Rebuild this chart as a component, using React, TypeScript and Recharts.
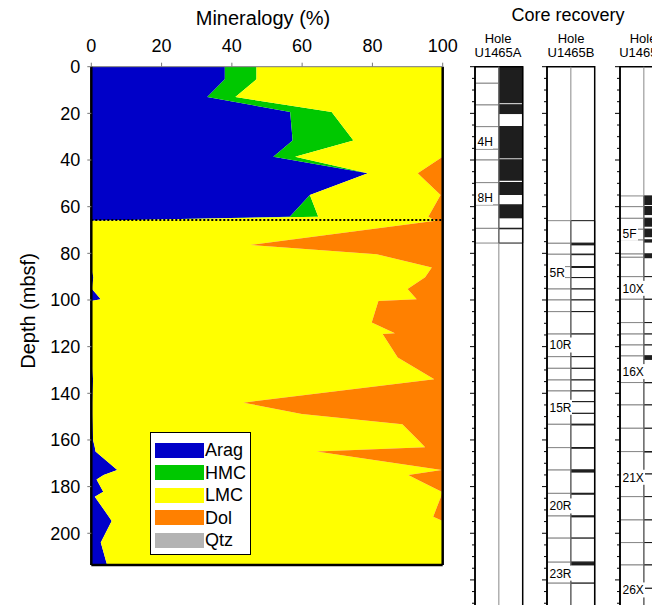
import React from 'react';
import {
  AreaChart,
  Area,
  ComposedChart,
  Scatter,
  XAxis,
  YAxis,
  Legend,
  ReferenceLine,
  ReferenceArea,
} from 'recharts';

// mineralogy (percent, by depth in mbsf)
const DEPTH = [0, 5.4, 13, 19.4, 31.6, 38.6, 45.7, 55, 64.3, 66, 76.4, 80.4, 86.1, 90.3, 95.3, 99.7, 100.4, 109.6, 114.3, 114.6, 124.7, 134, 144, 148.9, 153.3, 160, 163.1, 165, 172.9, 175, 176.9, 182.2, 184.3, 192.9, 194.7, 204, 213.6];
const ARAG = [38, 38, 33, 56.6, 57.3, 51.8, 78.7, 62.2, 56.5, 0, 0, 0, 0, 0.6, 0.2, 2.7, 0, 0, 0, 0, 0, 0.5, 0.3, 0.3, 0.4, 0.5, 1, 1.2, 7.4, 3.5, 1.5, 3.4, 1, 5, 5.8, 2.7, 4.5];
const HMC = [9, 9, 8, 11.8, 17.3, 6.2, 0, 0, 8.1, 0, 0, 0, 0, 0, 0, 0, 0, 0, 0, 0, 0, 0, 0, 0, 0, 0, 0, 0, 0, 0, 0, 0, 0, 0, 0, 0, 0];
const LMC = [53, 53, 59, 31.6, 25.4, 42, 14.2, 37.2, 31.3, 98, 45.2, 81.2, 96.9, 94.4, 89.8, 89.9, 81.7, 79.8, 86.4, 82.9, 87.2, 97.1, 43, 59.6, 88.1, 92.5, 94, 62.9, 92.3, 86.7, 91.2, 96.3, 98.5, 92.3, 94.2, 97.3, 95.5];
const DOL = [0, 0, 0, 0, 0, 0, 7.1, 0.6, 4.1, 2, 54.8, 18.8, 3.1, 5, 10, 7.4, 18.3, 20.2, 13.6, 17.1, 12.8, 2.4, 56.7, 40.1, 11.5, 7, 5, 35.9, 0.3, 9.8, 7.3, 0.3, 0.5, 2.7, 0, 0, 0];
const QTZ = [0, 0, 0, 0, 0, 0, 0, 0, 0, 0, 0, 0, 0, 0, 0, 0, 0, 0, 0, 0, 0, 0, 0, 0, 0, 0, 0, 0, 0, 0, 0, 0, 0, 0, 0, 0, 0];

const PCT_TICKS = [0, 20, 40, 60, 80, 100];
const DEPTH_TICKS = [0, 20, 40, 60, 80, 100, 120, 140, 160, 180, 200];
const UNIT_BOUNDARY = 65.7;
const MAX_DEPTH = 213.6;

const SERIES = [
  { key: 'Arag', color: '#0000c8' },
  { key: 'HMC', color: '#00c800' },
  { key: 'LMC', color: '#ffff00' },
  { key: 'Dol', color: '#ff8000' },
  { key: 'Qtz', color: '#b3b3b3' },
];

// core recovery: cored intervals, recovered intervals, core labels (mbsf)
const CORE_BOTTOM = 233.2;
const CORE_TICKS = [0, 5, 10, 15, 20, 25, 30, 35, 40, 45, 50, 55, 60, 65, 70, 75, 80, 85, 90, 95, 100, 105, 110, 115, 120, 125, 130, 135, 140, 145, 150, 155, 160, 165, 170, 175, 180, 185, 190, 195, 200, 205, 210, 215, 220, 225, 230];

const A_CORES = [[0, 7.1], [7.1, 16.4], [16.4, 25.7], [25.7, 35.4], [35.4, 40], [40, 49.7], [49.7, 59.3], [59.3, 69.3], [69.3, 75.6]];
const A_REC = [[0, 15.7], [16.4, 20.3], [25.7, 39.3], [40, 48.9], [49.7, 55], [59.3, 65], [69.3, 69.7]];
const A_LABELS = [{ depth: 32, text: '4H' }, { depth: 56, text: '8H' }];

const B_CORES = [[66, 75.7], [75.7, 80.4], [80.4, 85.7], [85.7, 90.4], [90.4, 95.3], [95.3, 100], [100, 105], [105, 114.6], [114.6, 124.3], [124.3, 129.3], [129.3, 134.3], [134.3, 139], [139, 143.6], [143.6, 148.6], [148.6, 153.3], [153.3, 163.3], [163.3, 172.9], [172.9, 182.9], [182.9, 192.6], [192.6, 202.1], [202.1, 212.4], [212.4, 221.4], [221.4, 233.2]];
const B_REC = [[75.7, 76.6], [80.4, 80.8], [85.7, 86.3], [153.3, 153.8], [163.3, 163.8], [172.9, 174], [182.9, 183.5], [192.6, 193.2], [212.4, 213.8]];
const B_LABELS = [{ depth: 88.3, text: '5R' }, { depth: 119.3, text: '10R' }, { depth: 146, text: '15R' }, { depth: 188.3, text: '20R' }, { depth: 217.1, text: '23R' }];

const C_CORES = [[55.4, 60], [60, 65], [65, 69.7], [69.7, 74.3], [74.3, 80.3], [80.3, 81.7], [81.7, 90], [90, 99.7], [99.7, 109.7], [109.7, 114.6], [114.6, 119.3], [119.3, 124], [124, 135.4], [135.4, 145], [145, 155], [155, 165], [165, 174.6], [174.6, 184.3], [184.3, 194.3], [194.3, 204], [204, 213.6], [213.6, 223.6], [223.6, 233.2]];
const C_REC = [[55.4, 59.3], [60, 63.6], [65, 68.6], [69.7, 73.1], [74.3, 75.4], [80.3, 82.1], [99.7, 100], [124, 125.7], [135.4, 135.7], [165, 165.4]];
const C_LABELS = [{ depth: 71.4, text: '5F' }, { depth: 95, text: '10X' }, { depth: 130.7, text: '16X' }, { depth: 176, text: '21X' }, { depth: 224.3, text: '26X' }];

const rows = DEPTH.map((d, i) => ({
  depth: d,
  Arag: ARAG[i],
  HMC: HMC[i],
  LMC: LMC[i],
  Dol: DOL[i],
  Qtz: QTZ[i],
}));

const FONT = "'Liberation Sans', Arial, Helvetica, sans-serif";

function LegendBox() {
  return (
    <div style={{ background: '#fff', border: '1px solid #000', padding: '6px 4px 0 4px', boxSizing: 'border-box', width: 101, height: 123 }}>
      {SERIES.map(s => (
        <div key={s.key} style={{ display: 'flex', alignItems: 'center', height: 22.5 }}>
          <span style={{ display: 'inline-block', width: 49, height: 15, background: s.color }} />
          <span style={{ marginLeft: 1, fontSize: 18, lineHeight: '18px', color: '#000' }}>{s.key}</span>
        </div>
      ))}
    </div>
  );
}

const renderCoreTick = (props: any) => {
  const { x, y, payload, index } = props;
  const len = payload.value % 20 === 0 ? 5 : 3;
  return <line key={index} x1={x} x2={x - len} y1={y} y2={y} stroke="#000" strokeWidth={1} />;
};

function CoreLabel(props: any) {
  const { cx, cy, payload } = props;
  if (cx == null || cy == null) return null;
  const text = payload.text as string;
  const w = text.length * 7 + 3;
  return (
    <g>
      <rect x={cx + 1} y={cy - 7.5} width={w} height={15} fill="#fff" stroke="none" />
      <text x={cx + 2.5} y={cy + 4.5} fontSize={12} fill="#000" stroke="none">{text}</text>
    </g>
  );
}

interface HoleProps {
  left: number;
  cores: number[][];
  recovered: number[][];
  labels: { depth: number; text: string }[];
}

function HoleColumn({ left, cores, recovered, labels }: HoleProps) {
  const labelRows = labels.map(l => ({ x: 0, depth: l.depth, text: l.text }));
  return (
    <div style={{ position: 'absolute', left, top: 0, width: Math.min(60, 652 - left), height: 605, overflow: 'hidden' }}>
      <ComposedChart width={60} height={605} data={labelRows} margin={{ top: 58.7, right: 2.3, bottom: 2.3, left: 0 }}>
        <XAxis type="number" dataKey="x" domain={[0, 2]} allowDataOverflow hide />
        <YAxis
          type="number"
          dataKey="depth"
          domain={[0, CORE_BOTTOM]}
          allowDataOverflow
          reversed
          ticks={CORE_TICKS}
          interval={0}
          width={10}
          tickSize={0}
          tickMargin={0}
          tickLine={false}
          axisLine={{ stroke: '#000', strokeWidth: 1.5 }}
          tick={renderCoreTick}
        />
        <ReferenceLine x={1} stroke="#888" strokeWidth={1} />
        {cores.map(([t, b], i) => (
          <ReferenceArea key={'l' + i} x1={0} x2={1} y1={t} y2={b} fill="#fff" fillOpacity={1} stroke="#888" strokeWidth={1} />
        ))}
        {cores.map(([t, b], i) => (
          <ReferenceArea key={'r' + i} x1={1} x2={2} y1={t} y2={b} fill="#fff" fillOpacity={1} stroke="#111" strokeWidth={1} />
        ))}
        {recovered.map(([t, b], i) => (
          <ReferenceArea key={'k' + i} x1={1} x2={2} y1={t} y2={b} fill="#1e1e1e" fillOpacity={1} stroke="none" />
        ))}
        <ReferenceArea x1={0} x2={2} y1={0} y2={CORE_BOTTOM} fill="none" fillOpacity={0} stroke="#000" strokeWidth={1.5} ifOverflow="visible" />
        <Scatter dataKey="depth" isAnimationActive={false} shape={<CoreLabel />} />
      </ComposedChart>
    </div>
  );
}

const centered = (x: number, y: number, size: number): React.CSSProperties => ({
  position: 'absolute',
  left: x,
  top: y,
  transform: 'translate(-50%, -50%)',
  fontSize: size,
  lineHeight: 1,
  whiteSpace: 'nowrap',
  color: '#000',
});

export default function App() {
  return (
    <div style={{ position: 'relative', width: 652, height: 597, fontFamily: FONT }}>
      <div style={{ position: 'absolute', left: 0, top: 0 }}>
        <AreaChart layout="vertical" width={450} height={570} data={rows} margin={{ top: 28.7, right: 15.3, bottom: 13, left: 20 }}>
          <XAxis
            type="number"
            orientation="top"
            domain={[0, 100]}
            ticks={PCT_TICKS}
            height={30}
            tickSize={4}
            tickMargin={11}
            axisLine={{ stroke: '#777' }}
            tickLine={{ stroke: '#777' }}
            tick={{ fill: '#000', fontSize: 18 }}
          />
          <YAxis
            type="number"
            dataKey="depth"
            domain={[0, MAX_DEPTH]}
            allowDataOverflow
            ticks={DEPTH_TICKS}
            interval={0}
            width={63.3}
            tickSize={4}
            tickMargin={7}
            axisLine={{ stroke: '#000', strokeWidth: 2.5 }}
            tickLine={{ stroke: '#777' }}
            tick={{ fill: '#000', fontSize: 18 }}
          />
          {SERIES.map(s => (
            <Area
              key={s.key}
              dataKey={s.key}
              stackId="min"
              type="linear"
              fill={s.color}
              fillOpacity={1}
              stroke="none"
              dot={false}
              activeDot={false}
              isAnimationActive={false}
            />
          ))}
          <ReferenceLine y={UNIT_BOUNDARY} stroke="#000" strokeWidth={2} strokeDasharray="2 2" />
          <ReferenceLine x={100} stroke="#000" strokeWidth={2.5} ifOverflow="visible" />
          <ReferenceLine y={MAX_DEPTH} stroke="#000" strokeWidth={2.5} ifOverflow="visible" />
          <Legend
            layout="vertical"
            align="center"
            verticalAlign="middle"
            content={() => <LegendBox />}
            wrapperStyle={{ left: 142, top: 424, width: 101, height: 123 }}
          />
        </AreaChart>
      </div>

      <div style={centered(255, 10, 20)}>Mineralogy (%)</div>
      <div style={{ ...centered(20, 303, 20), transform: 'translate(-50%, -50%) rotate(-90deg)' }}>Depth (mbsf)</div>

      <div style={centered(560, 7, 18)}>Core recovery</div>
      <div style={centered(490, 30, 13)}>Hole</div>
      <div style={centered(490, 44, 13)}>U1465A</div>
      <div style={centered(563, 30, 13)}>Hole</div>
      <div style={centered(563, 44, 13)}>U1465B</div>
      <div style={centered(635, 30, 13)}>Hole</div>
      <div style={centered(635, 44, 13)}>U1465C</div>

      <HoleColumn left={457} cores={A_CORES} recovered={A_REC} labels={A_LABELS} />
      <HoleColumn left={529.3} cores={B_CORES} recovered={B_REC} labels={B_LABELS} />
      <HoleColumn left={602} cores={C_CORES} recovered={C_REC} labels={C_LABELS} />
    </div>
  );
}
